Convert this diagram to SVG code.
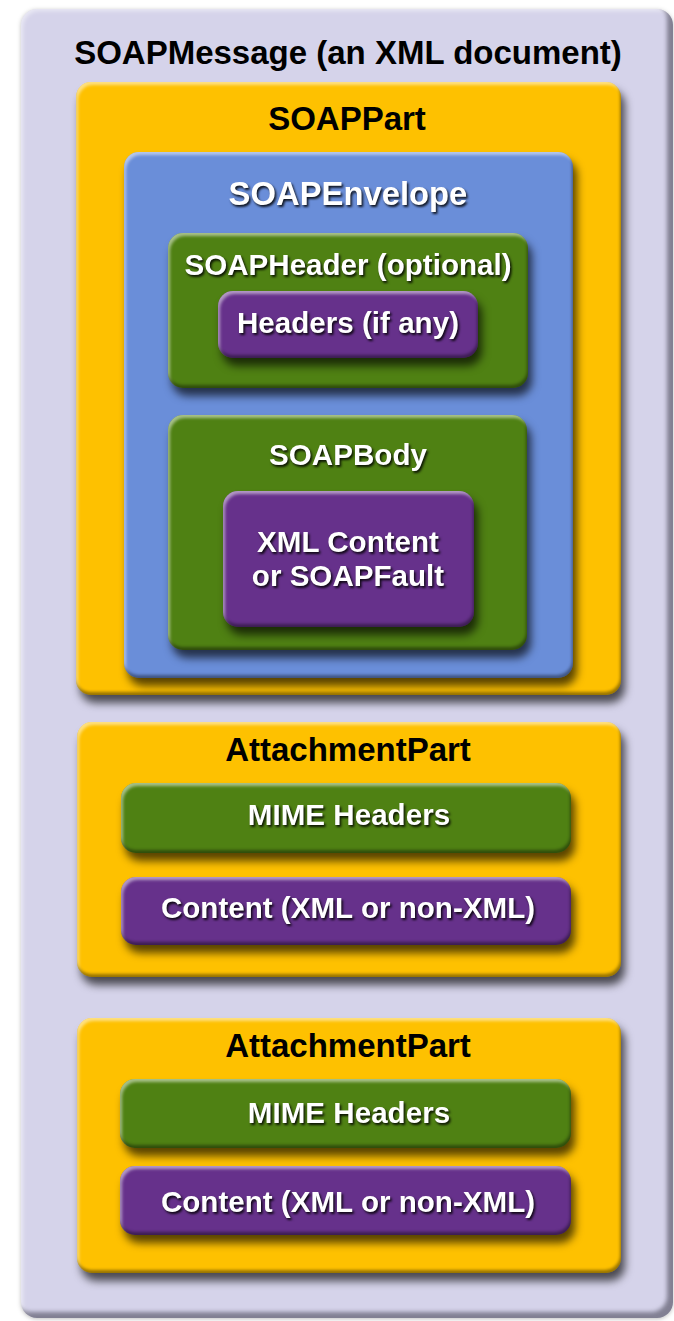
<svg xmlns="http://www.w3.org/2000/svg" width="674" height="1321" viewBox="0 0 674 1321">
  <defs>
    <filter id="box" x="-10%" y="-25%" width="125%" height="160%" color-interpolation-filters="sRGB">
      <feGaussianBlur in="SourceAlpha" stdDeviation="4.5" result="sb"/>
      <feOffset in="sb" dx="4" dy="8" result="so"/>
      <feFlood flood-color="#000" flood-opacity="0.65"/>
      <feComposite in2="so" operator="in" result="drop"/>
      <feGaussianBlur in="SourceAlpha" stdDeviation="1.5" result="eb"/>
      <feOffset in="eb" dx="1.5" dy="3" result="eo1"/>
      <feComposite in="SourceAlpha" in2="eo1" operator="out" result="topEdge"/>
      <feFlood flood-color="#fff" flood-opacity="0.5"/>
      <feComposite in2="topEdge" operator="in" result="hl"/>
      <feOffset in="eb" dx="-1.5" dy="-3" result="eo2"/>
      <feComposite in="SourceAlpha" in2="eo2" operator="out" result="botEdge"/>
      <feFlood flood-color="#000" flood-opacity="0.4"/>
      <feComposite in2="botEdge" operator="in" result="dk"/>
      <feMerge>
        <feMergeNode in="drop"/>
        <feMergeNode in="SourceGraphic"/>
        <feMergeNode in="hl"/>
        <feMergeNode in="dk"/>
      </feMerge>
    </filter>
    <filter id="outer" x="-5%" y="-5%" width="110%" height="110%" color-interpolation-filters="sRGB">
      <feGaussianBlur in="SourceAlpha" stdDeviation="2" result="eb"/>
      <feOffset in="eb" dx="2" dy="2" result="eo1"/>
      <feComposite in="SourceAlpha" in2="eo1" operator="out" result="topEdge"/>
      <feFlood flood-color="#fff" flood-opacity="0.5"/>
      <feComposite in2="topEdge" operator="in" result="hl"/>
      <feOffset in="eb" dx="-6" dy="-6" result="eo2"/>
      <feComposite in="SourceAlpha" in2="eo2" operator="out" result="botEdge"/>
      <feFlood flood-color="#4a4858" flood-opacity="0.6"/>
      <feComposite in2="botEdge" operator="in" result="dk"/>
      <feGaussianBlur in="SourceAlpha" stdDeviation="2" result="ob"/>
      <feOffset in="ob" dx="0" dy="1" result="oo"/>
      <feFlood flood-color="#000" flood-opacity="0.25"/>
      <feComposite in2="oo" operator="in" result="drop"/>
      <feMerge>
        <feMergeNode in="drop"/>
        <feMergeNode in="SourceGraphic"/>
        <feMergeNode in="hl"/>
        <feMergeNode in="dk"/>
      </feMerge>
    </filter>
    <filter id="tshadow" x="-5%" y="-30%" width="115%" height="170%" color-interpolation-filters="sRGB">
      <feDropShadow dx="1.5" dy="2" stdDeviation="1.2" flood-color="#000" flood-opacity="0.85"/>
    </filter>
  </defs>
  <style>
    .lav { fill: #d5d3ea; }
    .yel { fill: #fec100; }
    .blu { fill: #6a8ed9; }
    .grn { fill: #4f8113; }
    .pur { fill: #66318b; }
    .t { font-family: "Liberation Sans", Arial, Helvetica, sans-serif; font-weight: bold; text-anchor: middle; }
    .dark { fill: #000; font-size: 33px; }
    .light { fill: #fff; font-size: 29.6px; filter: url(#tshadow); }
    .big { font-size: 32.8px; }
  </style>

  <rect x="0" y="0" width="674" height="1321" fill="#fff"/>

  <g id="soap-message">
    <rect class="lav" x="21" y="9" width="652" height="1309" rx="16" filter="url(#outer)"/>
    <text class="t dark" x="348" y="64">SOAPMessage (an XML document)</text>
  </g>

  <g id="soap-part">
    <rect class="yel" x="76" y="82" width="545" height="613" rx="15" filter="url(#box)"/>
    <text class="t dark" x="347" y="130">SOAPPart</text>
  </g>

  <g id="soap-envelope">
    <rect class="blu" x="124" y="152" width="449" height="526" rx="15" filter="url(#box)"/>
    <text class="t light big" x="348" y="205">SOAPEnvelope</text>
  </g>

  <g id="soap-header">
    <rect class="grn" x="168" y="233" width="360" height="155" rx="15" filter="url(#box)"/>
    <text class="t light" x="348" y="275">SOAPHeader (optional)</text>
  </g>

  <g id="headers">
    <rect class="pur" x="218" y="291" width="260" height="67" rx="15" filter="url(#box)"/>
    <text class="t light" x="348" y="333">Headers (if any)</text>
  </g>

  <g id="soap-body">
    <rect class="grn" x="168" y="415" width="359" height="235" rx="15" filter="url(#box)"/>
    <text class="t light" x="348" y="465">SOAPBody</text>
  </g>

  <g id="xml-content">
    <rect class="pur" x="223" y="491" width="251" height="136" rx="15" filter="url(#box)"/>
    <text class="t light" x="348" y="552">XML Content</text>
    <text class="t light" x="348" y="586">or SOAPFault</text>
  </g>

  <g id="attachment-part-1">
    <rect class="yel" x="77" y="722" width="544" height="255" rx="15" filter="url(#box)"/>
    <text class="t dark" x="348" y="761">AttachmentPart</text>
  </g>

  <g id="mime-headers-1">
    <rect class="grn" x="121" y="783" width="450" height="70" rx="15" filter="url(#box)"/>
    <text class="t light" x="349" y="825">MIME Headers</text>
  </g>

  <g id="content-1">
    <rect class="pur" x="121" y="877" width="450" height="68" rx="15" filter="url(#box)"/>
    <text class="t light" x="348" y="918">Content (XML or non-XML)</text>
  </g>

  <g id="attachment-part-2">
    <rect class="yel" x="77" y="1018" width="544" height="255" rx="15" filter="url(#box)"/>
    <text class="t dark" x="348" y="1057">AttachmentPart</text>
  </g>

  <g id="mime-headers-2">
    <rect class="grn" x="120" y="1079" width="451" height="69" rx="15" filter="url(#box)"/>
    <text class="t light" x="349" y="1123">MIME Headers</text>
  </g>

  <g id="content-2">
    <rect class="pur" x="120" y="1166" width="451" height="69" rx="15" filter="url(#box)"/>
    <text class="t light" x="348" y="1212">Content (XML or non-XML)</text>
  </g>

  <g id="connectors"/>
</svg>
